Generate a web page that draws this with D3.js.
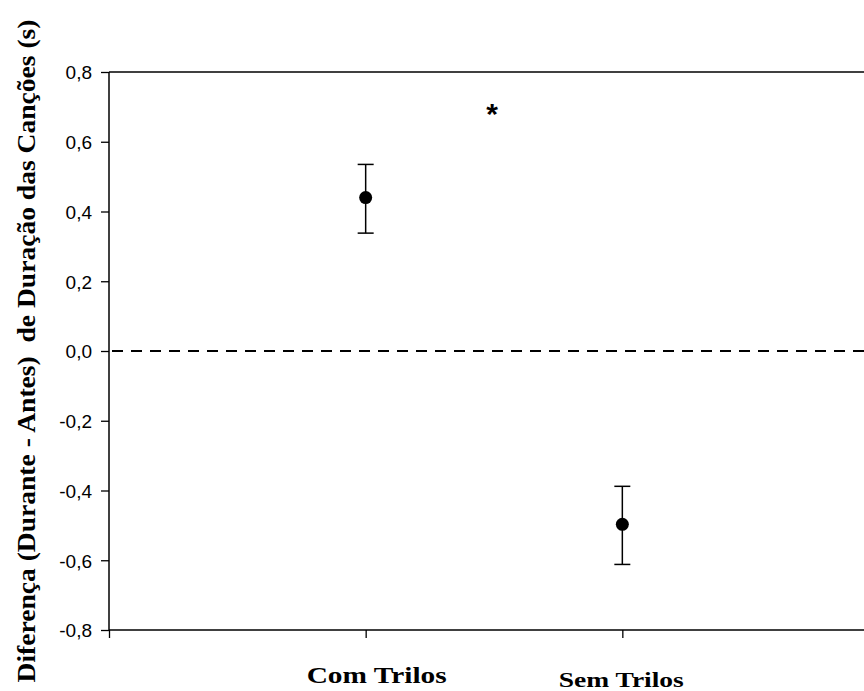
<!DOCTYPE html>
<html>
<head>
<meta charset="utf-8">
<script src="https://cdn.jsdelivr.net/npm/d3@7"></script>
<style>
  body { margin: 0; background: #fff; }
  svg { display: block; }
</style>
</head>
<body>
<svg width="864" height="691"></svg>
<script>
  let categories = ["Com Trilos", "Sem Trilos"];
  let means = [0.44, -0.497];
  let upper = [0.535, -0.388];
  let lower = [0.338, -0.612];
  let yTicks = [-0.8, -0.6, -0.4, -0.2, 0.0, 0.2, 0.4, 0.6, 0.8];
  let yTitle = "Diferença (Durante - Antes)  de Duração das Canções (s)";

  (function() {
    let svg = d3.select("svg");
    let plotLeft = 109, plotTop = 72, plotBottom = 630, axisRight = 879;
    let serif = "'Liberation Serif', 'Times New Roman', serif";

    // categories sit at 1 and 2 on a 0..3 axis, right end falls off the page
    let xScale = d3.scaleLinear().domain([0, 3]).range([plotLeft, axisRight]);
    let yScale = d3.scaleLinear().domain([-0.8, 0.8]).range([plotBottom, plotTop]);

    let fmt = d => d3.format(".1f")(d).replace(".", ",").replace("−", "-");

    let yAxis = d3.axisLeft(yScale).tickValues(yTicks).tickSize(8).tickPadding(9).tickFormat(fmt);
    let gy = svg.append("g").attr("transform", `translate(${plotLeft},0)`).call(yAxis);
    gy.select(".domain").remove();
    gy.selectAll(".tick line").attr("stroke", "#000").attr("stroke-width", 1.3);
    gy.selectAll(".tick text").attr("fill", "#000").attr("dy", "0.36em")
      .style("font", "19px 'Liberation Sans', Arial, sans-serif");

    let xAxis = d3.axisBottom(xScale).tickValues([0, 1, 2, 3]).tickSize(8).tickFormat("");
    let gx = svg.append("g").attr("transform", `translate(0,${plotBottom})`).call(xAxis);
    gx.select(".domain").remove();
    gx.selectAll(".tick line").attr("stroke", "#000").attr("stroke-width", 1.3);

    // frame
    svg.append("line").attr("x1", plotLeft).attr("x2", plotLeft).attr("y1", plotTop).attr("y2", plotBottom)
      .attr("stroke", "#000").attr("stroke-width", 1.5);
    svg.append("line").attr("x1", plotLeft).attr("x2", 864).attr("y1", plotBottom).attr("y2", plotBottom)
      .attr("stroke", "#000").attr("stroke-width", 1.5);
    svg.append("line").attr("x1", plotLeft).attr("x2", 864).attr("y1", plotTop).attr("y2", plotTop)
      .attr("stroke", "#000").attr("stroke-width", 1.5);

    // zero reference line
    svg.append("line").attr("x1", plotLeft + 3).attr("x2", 864).attr("y1", yScale(0)).attr("y2", yScale(0))
      .attr("stroke", "#000").attr("stroke-width", 2).attr("stroke-dasharray", "11,8");

    // error bars + means
    categories.forEach(function(c, i) {
      let x = xScale(i + 1);
      svg.append("line").attr("x1", x).attr("x2", x).attr("y1", yScale(upper[i])).attr("y2", yScale(lower[i]))
        .attr("stroke", "#000").attr("stroke-width", 1.5);
      [upper[i], lower[i]].forEach(function(v) {
        svg.append("line").attr("x1", x - 8).attr("x2", x + 8).attr("y1", yScale(v)).attr("y2", yScale(v))
          .attr("stroke", "#000").attr("stroke-width", 1.5);
      });
      svg.append("circle").attr("cx", x).attr("cy", yScale(means[i])).attr("r", 6.5).attr("fill", "#000");
    });

    // category labels (the original type is stretched sideways)
    svg.append("text").attr("x", xScale(1) + 11).attr("y", 683).attr("text-anchor", "middle")
      .attr("textLength", 140).attr("lengthAdjust", "spacingAndGlyphs")
      .style("font", `bold 23px ${serif}`).text(categories[0]);
    svg.append("text").attr("x", xScale(2) - 1).attr("y", 687).attr("text-anchor", "middle")
      .attr("textLength", 125).attr("lengthAdjust", "spacingAndGlyphs")
      .style("font", `bold 22px ${serif}`).text(categories[1]);

    // significance mark
    svg.append("text").attr("x", 492).attr("y", 124).attr("text-anchor", "middle")
      .style("font", "bold 30px 'Liberation Sans', Arial, sans-serif").text("*");

    // y title
    svg.append("text").attr("text-anchor", "middle")
      .attr("transform", "translate(35,351)rotate(-90)")
      .attr("textLength", 663).attr("lengthAdjust", "spacingAndGlyphs")
      .style("font", `bold 25px ${serif}`)
      .style("white-space", "pre")
      .text(yTitle);
  })();
</script>
</body>
</html>
